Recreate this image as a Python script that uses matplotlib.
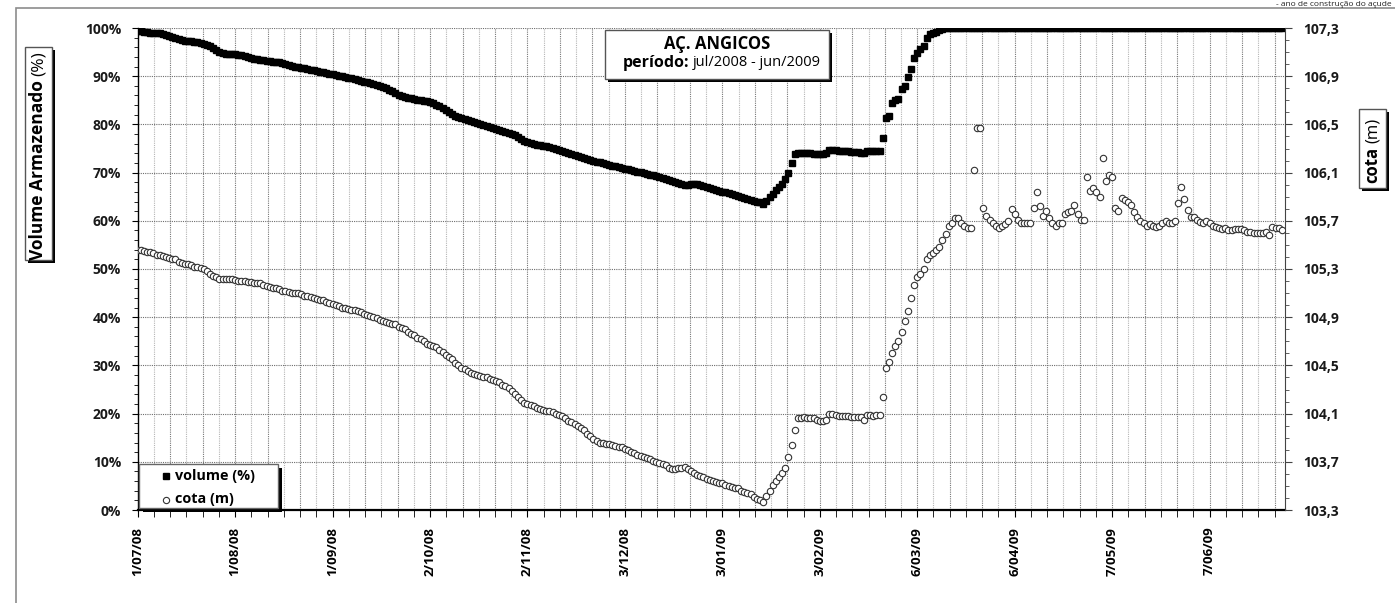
import matplotlib
matplotlib.use("Agg")
import matplotlib.pyplot as plt
import matplotlib.dates as mdates
from matplotlib.patches import Rectangle
from matplotlib.lines import Line2D
from matplotlib.ticker import MultipleLocator, FuncFormatter
import numpy as np
import pandas as pd

plt.rcParams["font.family"] = ["Open Sans", "DejaVu Sans"]

start = "2008-07-01"
end = "2009-07-01"

# volume armazenado (%), one value per day from 1/07/2008
volume = [
    99.4, 99.3, 99.2, 99.1, 99.0, 99.0, 98.9, 98.9, 98.8, 98.6,
    98.4, 98.2, 98.0, 97.8, 97.6, 97.4, 97.3, 97.2, 97.1, 97.0,
    96.8, 96.6, 96.4, 96.2, 95.8, 95.4, 95.0, 94.8, 94.7, 94.7,
    94.7, 94.6, 94.5, 94.4, 94.2, 94.0, 93.8, 93.6, 93.5, 93.4,
    93.3, 93.2, 93.1, 93.0, 93.0, 92.9, 92.7, 92.5, 92.4, 92.2,
    92.0, 91.9, 91.7, 91.6, 91.4, 91.3, 91.2, 91.0, 90.9, 90.8,
    90.7, 90.5, 90.4, 90.3, 90.1, 90.0, 89.9, 89.7, 89.6, 89.5,
    89.3, 89.1, 88.9, 88.7, 88.5, 88.3, 88.1, 87.9, 87.7, 87.5,
    87.2, 86.9, 86.5, 86.2, 85.9, 85.7, 85.5, 85.4, 85.2, 85.1,
    85.0, 84.9, 84.8, 84.6, 84.4, 84.1, 83.8, 83.4, 83.0, 82.6,
    82.2, 81.8, 81.5, 81.3, 81.1, 80.9, 80.7, 80.5, 80.3, 80.1,
    79.9, 79.7, 79.5, 79.3, 79.1, 78.9, 78.7, 78.5, 78.3, 78.1,
    77.8, 77.4, 77.0, 76.6, 76.3, 76.1, 75.9, 75.8, 75.7, 75.6,
    75.5, 75.3, 75.1, 74.9, 74.7, 74.5, 74.3, 74.1, 73.9, 73.7,
    73.5, 73.3, 73.1, 72.9, 72.7, 72.5, 72.3, 72.1, 71.9, 71.7,
    71.6, 71.4, 71.3, 71.1, 71.0, 70.8, 70.7, 70.5, 70.4, 70.2,
    70.1, 69.9, 69.8, 69.6, 69.4, 69.2, 69.0, 68.8, 68.6, 68.4,
    68.2, 68.0, 67.8, 67.6, 67.5, 67.5, 67.6, 67.7, 67.7, 67.5,
    67.3, 67.0, 66.8, 66.6, 66.4, 66.2, 66.0, 65.9, 65.7, 65.5,
    65.3, 65.2, 65.0, 64.8, 64.6, 64.4, 64.2, 64.0, 63.8, 63.5,
    64.2, 64.9, 65.6, 66.3, 67.0, 67.7, 68.7, 70.0, 72.0, 73.9,
    74.0, 74.0, 74.1, 74.0, 74.0, 73.9, 73.9, 73.8, 73.8, 74.0,
    74.6, 74.7, 74.6, 74.5, 74.5, 74.4, 74.4, 74.3, 74.3, 74.2,
    74.1, 74.0, 74.4, 74.4, 74.4, 74.4, 74.5, 77.2,
    81.3, 81.7, 84.4, 85.0, 85.3, 87.3, 88.0, 89.8, 91.5, 93.8,
    94.8, 95.6, 96.3, 97.9, 98.8, 99.0, 99.2, 99.6, 99.8, 100.0,
] + [100.0] * 107

# cota (m), one value per day from 1/07/2008
cota = [
    105.46, 105.46, 105.45, 105.44, 105.44, 105.43, 105.42, 105.42, 105.41, 105.40,
    105.39, 105.38, 105.38, 105.36, 105.35, 105.34, 105.34, 105.33, 105.32, 105.32,
    105.31, 105.30, 105.28, 105.26, 105.24, 105.23, 105.22, 105.22, 105.22, 105.22,
    105.22, 105.21, 105.20, 105.20, 105.20, 105.19, 105.19, 105.18, 105.18, 105.18,
    105.17, 105.16, 105.15, 105.14, 105.14, 105.13, 105.12, 105.12, 105.11, 105.10,
    105.10, 105.10, 105.09, 105.08, 105.08, 105.07, 105.06, 105.05, 105.04, 105.04,
    105.03, 105.02, 105.01, 105.00, 104.99, 104.98, 104.98, 104.97, 104.96, 104.96,
    104.95, 104.94, 104.93, 104.92, 104.91, 104.90, 104.89, 104.88, 104.87, 104.86,
    104.85, 104.84, 104.84, 104.82, 104.81, 104.80, 104.78, 104.76, 104.75, 104.73,
    104.72, 104.70, 104.68, 104.67, 104.66, 104.65, 104.63, 104.61, 104.59, 104.57,
    104.55, 104.52, 104.50, 104.48, 104.47, 104.45, 104.44, 104.43, 104.42, 104.41,
    104.40, 104.40, 104.39, 104.38, 104.37, 104.36, 104.34, 104.33, 104.31, 104.29,
    104.26, 104.24, 104.21, 104.19, 104.18, 104.17, 104.16, 104.15, 104.14, 104.13,
    104.12, 104.12, 104.11, 104.10, 104.09, 104.08, 104.06, 104.04, 104.03, 104.01,
    104.00, 103.98, 103.96, 103.93, 103.91, 103.89, 103.87, 103.86, 103.86, 103.85,
    103.85, 103.84, 103.83, 103.82, 103.82, 103.81, 103.80, 103.78, 103.77, 103.76,
    103.75, 103.74, 103.73, 103.72, 103.71, 103.70, 103.69, 103.68, 103.67, 103.65,
    103.64, 103.64, 103.65, 103.65, 103.66, 103.64, 103.62, 103.61, 103.59, 103.58,
    103.57, 103.56, 103.55, 103.54, 103.53, 103.52, 103.52, 103.51, 103.50, 103.49,
    103.48, 103.48, 103.46, 103.45, 103.44, 103.43, 103.41, 103.39, 103.38, 103.37,
    103.42, 103.46, 103.51, 103.54, 103.57, 103.61, 103.65, 103.74, 103.84, 103.96,
    104.06, 104.06, 104.07, 104.06, 104.06, 104.06, 104.05, 104.04, 104.04, 104.05,
    104.10, 104.10, 104.09, 104.08, 104.08, 104.08, 104.08, 104.07, 104.07, 104.07,
    104.07, 104.05, 104.09, 104.09, 104.08, 104.09, 104.09, 104.24,
    104.48, 104.53, 104.60, 104.66, 104.70, 104.78, 104.87, 104.95, 105.06, 105.17,
    105.23, 105.26, 105.30, 105.38, 105.42, 105.43, 105.46, 105.48, 105.54, 105.59,
    105.66, 105.68, 105.72, 105.72, 105.68, 105.66, 105.64, 105.64, 106.12, 106.47,
    106.47, 105.81, 105.74, 105.71, 105.68, 105.66, 105.64, 105.66, 105.67, 105.70,
    105.80, 105.76, 105.71, 105.68, 105.68, 105.68, 105.68, 105.81, 105.94, 105.82,
    105.74, 105.78, 105.72, 105.68, 105.66, 105.68, 105.68, 105.76, 105.77, 105.78,
    105.83, 105.76, 105.71, 105.71, 106.06, 105.95, 105.97, 105.94, 105.90, 106.22,
    106.03, 106.08, 106.06, 105.81, 105.78, 105.89, 105.87, 105.86, 105.83, 105.77,
    105.73, 105.70, 105.68, 105.66, 105.67, 105.66, 105.65, 105.66, 105.68, 105.70,
    105.68, 105.68, 105.70, 105.85, 105.98, 105.88, 105.79, 105.73, 105.73, 105.71,
    105.69, 105.68, 105.70, 105.68, 105.66, 105.65, 105.64, 105.63, 105.64, 105.62,
    105.62, 105.63, 105.63, 105.63, 105.62, 105.61, 105.61, 105.60, 105.60, 105.60,
    105.60, 105.61, 105.58, 105.65, 105.64, 105.64, 105.62,
]

W, H = 1395, 603
fig = plt.figure(figsize=(W / 100, H / 100), dpi=100)


def fx(px):
    return px / W


def fy(py):
    return 1 - py / H


def shadow_box(x0, y0, x1, y1, off=3, edge="#555555"):
    # white box with black drop shadow, pixel coords from top-left
    fig.add_artist(Rectangle((fx(x0 + off), fy(y1 + off)), (x1 - x0) / W, (y1 - y0) / H,
                             transform=fig.transFigure, facecolor="black",
                             edgecolor="none", zorder=5))
    fig.add_artist(Rectangle((fx(x0), fy(y1)), (x1 - x0) / W, (y1 - y0) / H,
                             transform=fig.transFigure, facecolor="white",
                             edgecolor=edge, lw=1, zorder=6))


# outer frame
fig.add_artist(Rectangle((fx(16), -0.05), 1.2, fy(8) + 0.05, transform=fig.transFigure,
                         facecolor="none", edgecolor="#8c8c8c", lw=1.2, zorder=0))
fig.text(fx(1392), fy(0.5), "- ano de construção do açude", fontsize=6,
         ha="right", va="top", color="#222222")

ax = fig.add_axes([fx(137.7), fy(510), (1285 - 137.7) / W, (510 - 28) / H])
ax2 = ax.twinx()

d_vol = pd.date_range(start, periods=len(volume), freq="D")
d_cota = pd.date_range(start, periods=len(cota), freq="D")

ax.plot(d_vol, volume, ls="none", marker="s", ms=5, color="black", zorder=3)
ax2.plot(d_cota, cota, ls="none", marker="o", ms=4.6, mfc="white",
         mec="#333333", mew=0.8, zorder=3)

t0 = mdates.date2num(pd.Timestamp(start))
t1 = mdates.date2num(pd.Timestamp(end))
ax.set_xlim(t0, t1)
ax.set_ylim(0, 100)
ax2.set_ylim(103.3, 107.3)

minor_x = t0 + np.arange(71) * 31 / 6
major_x = minor_x[::6]

# grid
for k, v in enumerate(minor_x[1:], start=1):
    ax.axvline(v, color="#777777" if k % 2 == 0 else "#b5b5b5", lw=0.8,
               ls=(0, (1, 1)), zorder=1)
for v in range(10, 101, 10):
    ax.axhline(v, color="#6e6e6e", lw=0.8, ls=(0, (1, 1)), zorder=1)

ax.set_xticks(major_x)
ax.set_xticks(minor_x, minor=True)
labels = []
for v in major_x:
    d = mdates.num2date(v)
    labels.append(f"{d.day}/{d:%m/%y}")
ax.set_xticklabels(labels, rotation=90, fontsize=9.5, fontweight="bold")

ax.yaxis.set_major_locator(MultipleLocator(10))
ax.yaxis.set_minor_locator(MultipleLocator(2))
ax.yaxis.set_major_formatter(FuncFormatter(lambda v, p: f"{v:.0f}%"))
ax2.set_yticks(np.arange(103.3, 107.31, 0.4))
ax2.yaxis.set_minor_locator(MultipleLocator(0.1))
ax2.yaxis.set_major_formatter(FuncFormatter(lambda v, p: f"{v:.1f}".replace(".", ",")))

for lab in ax.get_yticklabels() + ax2.get_yticklabels():
    lab.set_fontweight("bold")
    lab.set_fontsize(10)
    lab.set_color("#1a1a1a")

ax.tick_params(axis="x", which="both", direction="out", length=5, pad=7, color="black")
ax.tick_params(axis="y", which="major", direction="out", length=4, pad=8)
ax.tick_params(axis="y", which="minor", direction="out", length=3)
ax2.tick_params(axis="y", which="major", direction="out", length=5, pad=8, color="#444444")
ax2.tick_params(axis="y", which="minor", direction="out", length=3, color="#444444")

for a in (ax, ax2):
    a.spines["top"].set_visible(False)
ax.spines["bottom"].set_linewidth(1.6)
ax.spines["left"].set_linewidth(1.0)
ax2.spines["right"].set_color("#444444")
ax2.spines["left"].set_visible(False)
ax2.spines["bottom"].set_visible(False)
ax.spines["right"].set_visible(False)

# title box
shadow_box(605, 30, 829, 79)
fig.text(fx(717), fy(44), "AÇ. ANGICOS", fontsize=12, fontweight="bold",
         ha="center", va="center", zorder=7)
fig.text(fx(689), fy(63), "período:", fontsize=11.5, fontweight="bold",
         ha="right", va="center", zorder=7)
fig.text(fx(693), fy(63), "jul/2008 - jun/2009", fontsize=10.5,
         ha="left", va="center", zorder=7)

# axis titles
shadow_box(25, 47, 52, 260)
fig.text(fx(38.5), fy(80), "Volume Armazenado", fontsize=12.5, fontweight="bold",
         rotation=90, rotation_mode="anchor", ha="right", va="center", zorder=7)
fig.text(fx(38.5), fy(76), "(%)", fontsize=12.5, rotation=90,
         rotation_mode="anchor", ha="left", va="center", zorder=7)

shadow_box(1359, 109, 1386, 188)
fig.text(fx(1372.5), fy(147), "cota", fontsize=12, fontweight="bold",
         rotation=90, rotation_mode="anchor", ha="right", va="center", zorder=7)
fig.text(fx(1372.5), fy(143), "(m)", fontsize=12, rotation=90,
         rotation_mode="anchor", ha="left", va="center", zorder=7)

# legend
shadow_box(139, 464, 278, 508, off=4, edge="#666666")
fig.add_artist(Line2D([fx(166)], [fy(476)], transform=fig.transFigure, ls="none",
                      marker="s", ms=4, color="black", zorder=7))
fig.add_artist(Line2D([fx(166)], [fy(499.5)], transform=fig.transFigure, ls="none",
                      marker="o", ms=4.5, mfc="white", mec="#333333", mew=0.8, zorder=7))
fig.text(fx(175), fy(476), "volume (%)", fontsize=10.4, fontweight="bold",
         ha="left", va="center", zorder=7)
fig.text(fx(175), fy(499.5), "cota (m)", fontsize=10.4, fontweight="bold",
         ha="left", va="center", zorder=7)

fig.savefig("out.png", dpi=100)
